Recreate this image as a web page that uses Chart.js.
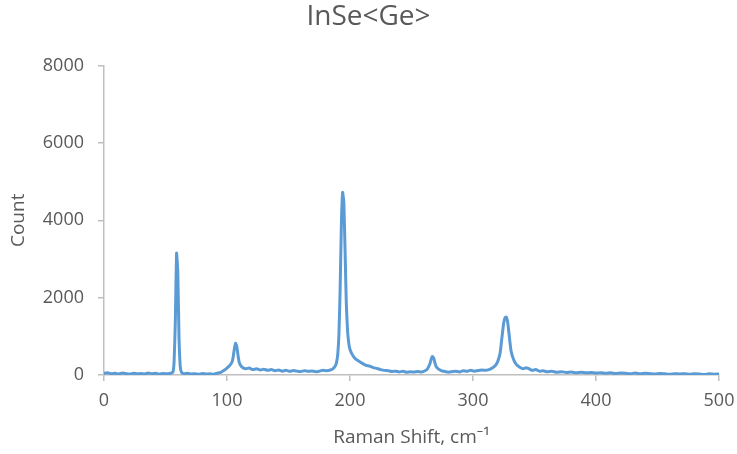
<!DOCTYPE html>
<html>
<head>
<meta charset="utf-8">
<script src="https://cdn.jsdelivr.net/npm/chart.js@4/dist/chart.umd.min.js"></script>
<style>
  html, body { margin: 0; padding: 0; background: #fff; }
  #wrap { width: 737px; height: 454px; }
</style>
</head>
<body>
<div id="wrap"><canvas id="ramanChart" width="737" height="454"></canvas></div>
<script>
// Raman shift (cm-1) and counts
const ramanShift = [
  0, 3, 6, 9, 12, 15, 18, 21, 24, 27,
  30, 33, 36, 39, 42, 45, 48, 51, 54, 56,
  57, 58, 59, 60, 61, 62, 63, 65, 68, 71,
  74, 77, 80, 83, 86, 89, 92, 95, 98, 100,
  102, 104, 105, 106, 107, 108, 109, 110, 112, 115,
  118, 121, 124, 127, 130, 133, 136, 139, 142, 145,
  148, 151, 154, 157, 160, 163, 166, 169, 172, 175,
  178, 181, 184, 186, 188, 189, 190, 191, 192, 193,
  194, 195, 196, 197, 198, 199, 200, 202, 204, 207,
  210, 213, 216, 219, 222, 225, 228, 231, 234, 237,
  240, 243, 246, 249, 252, 255, 258, 261, 263, 265,
  266, 267, 268, 269, 270, 272, 274, 277, 280, 283,
  286, 289, 292, 295, 298, 301, 304, 307, 310, 313,
  316, 318, 320, 322, 323, 324, 325, 326, 327, 328,
  329, 330, 331, 333, 335, 338, 341, 343, 345, 348,
  351, 354, 357, 360, 364, 368, 372, 376, 380, 384,
  388, 392, 396, 400, 404, 408, 412, 416, 420, 424,
  428, 432, 436, 440, 444, 448, 452, 456, 460, 464,
  468, 472, 476, 480, 484, 488, 492, 496, 500
];
const counts = [
  40, 55, 30, 45, 25, 50, 35, 20, 45, 30,
  40, 25, 50, 35, 45, 20, 40, 30, 45, 70,
  350, 1400, 3150, 2650, 950, 220, 70, 30, 45, 25,
  35, 20, 40, 25, 30, 20, 45, 70, 130, 180,
  240, 330, 460, 680, 820, 730, 500, 320, 210, 160,
  180, 140, 160, 130, 150, 120, 140, 110, 130, 100,
  120, 95, 115, 100, 90, 110, 95, 105, 85, 100,
  120, 110, 130, 160, 230, 320, 520, 1050, 2250, 3900,
  4720, 4450, 3200, 1850, 1150, 820, 660, 520, 430, 360,
  300, 250, 230, 190, 170, 140, 120, 110, 90, 100,
  80, 95, 70, 85, 75, 90, 80, 110, 160, 290,
  410, 480, 440, 320, 220, 150, 115, 90, 70, 85,
  100, 80, 110, 95, 120, 100, 115, 130, 120, 140,
  190, 240, 340, 560, 820, 1100, 1350, 1480, 1500, 1400,
  1150, 860, 610, 400, 280, 200, 160, 190, 170, 120,
  140, 100, 110, 85, 95, 70, 85, 65, 75, 60,
  70, 55, 65, 50, 60, 45, 55, 40, 50, 45,
  35, 50, 30, 45, 35, 25, 40, 30, 20, 35,
  25, 35, 20, 30, 25, 15, 30, 20, 25
];
const xTicks = [0, 100, 200, 300, 400, 500];
const yTicks = [0, 2000, 4000, 6000, 8000];

const points = ramanShift.map((x, i) => ({ x: x, y: counts[i] }));

const textColor = '#595959';
const axisColor = '#bfbfbf';
const fontFamily = '"Open Sans", "Noto Sans", sans-serif';

const ctx = document.getElementById('ramanChart').getContext('2d');
new Chart(ctx, {
  type: 'line',
  data: {
    datasets: [{
      label: 'InSe<Ge>',
      data: points,
      borderColor: '#5b9bd5',
      borderWidth: 3,
      pointRadius: 0,
      fill: false,
      tension: 0.15
    }]
  },
  options: {
    responsive: false,
    animation: false,
    layout: { padding: { left: 0, right: 0, top: 0, bottom: 0 } },
    plugins: {
      legend: { display: false },
      tooltip: { enabled: false },
      title: {
        display: true,
        text: 'InSe<Ge>',
        color: textColor,
        font: { family: fontFamily, size: 28, weight: 'normal' },
        padding: { top: 0, bottom: 32 }
      }
    },
    scales: {
      x: {
        type: 'linear',
        min: 0,
        max: 500,
        afterBuildTicks: (scale) => { scale.ticks = xTicks.map(v => ({ value: v })); },
        afterFit: (scale) => { scale.height = 79; scale.paddingRight = 18; },
        grid: { display: true, drawOnChartArea: false, drawTicks: true, tickLength: 6, color: axisColor, lineWidth: 1.5 },
        border: { color: axisColor, width: 1.5 },
        ticks: { color: textColor, font: { family: fontFamily, size: 18 }, padding: 9, maxRotation: 0,
                 callback: (v) => String(v) },
        title: {
          display: true,
          text: 'Raman Shift, cm\u207B\u00B9',
          color: textColor,
          font: { family: fontFamily, size: 19 },
          padding: { top: 4, bottom: 5 }
        }
      },
      y: {
        min: 0,
        max: 8000,
        afterBuildTicks: (scale) => { scale.ticks = yTicks.map(v => ({ value: v })); },
        afterFit: (scale) => { scale.width = 104; },
        grid: { display: true, drawOnChartArea: false, drawTicks: true, tickLength: 6, color: axisColor, lineWidth: 1.5 },
        border: { color: axisColor, width: 1.5 },
        ticks: { color: textColor, font: { family: fontFamily, size: 18 }, padding: 14,
                 callback: (v) => String(v) },
        title: {
          display: true,
          text: 'Count',
          color: textColor,
          font: { family: fontFamily, size: 19 },
          padding: { top: 7, bottom: 0 }
        }
      }
    }
  }
});
</script>
</body>
</html>
